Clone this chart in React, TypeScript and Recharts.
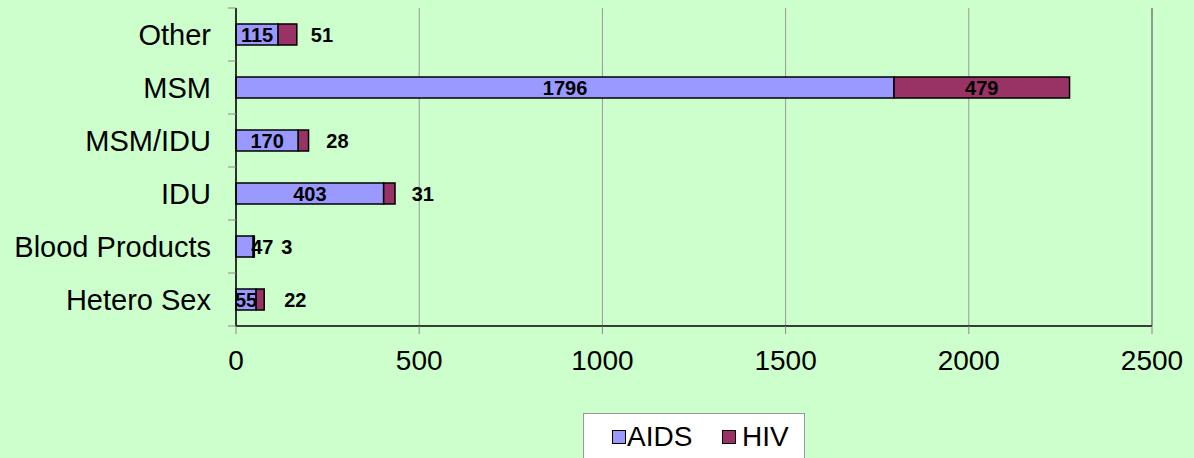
import React from 'react';
import { BarChart, Bar, XAxis, YAxis, CartesianGrid, Legend, LabelList, ReferenceLine } from 'recharts';

const categories = ['Other', 'MSM', 'MSM/IDU', 'IDU', 'Blood Products', 'Hetero Sex'];
const aidsValues = [115, 1796, 170, 403, 47, 55];
const hivValues = [51, 479, 28, 31, 3, 22];
const xTicks = [0, 500, 1000, 1500, 2000, 2500];
const seriesNames = ['AIDS', 'HIV'];

const data = categories.map((c, i) => ({ name: c, aids: aidsValues[i], hiv: hivValues[i] }));

const W = 1194;
const H = 458;
const PLOT_TOP = 8;
const PLOT_BOTTOM = 326;
const HALF_BAND = (PLOT_BOTTOM - PLOT_TOP) / categories.length / 2;
const FONT = '"Liberation Sans", Arial, sans-serif';
const AIDS_COLOR = '#9999FF';
const HIV_COLOR = '#993366';

const YTick = (props: any) => {
  const { x, y, payload, index } = props;
  return (
    <g>
      <line x1={x - 8} x2={x} y1={y - HALF_BAND} y2={y - HALF_BAND} stroke="#888" strokeWidth={1} />
      {index === categories.length - 1 && (
        <line x1={x - 8} x2={x} y1={y + HALF_BAND} y2={y + HALF_BAND} stroke="#888" strokeWidth={1} />
      )}
      <text x={x - 25} y={y} dy="0.36em" textAnchor="end" fontSize={29} fontFamily={FONT} fill="#000">
        {payload.value}
      </text>
    </g>
  );
};

const aidsLabel = (props: any) => {
  const { x, y, width, height, value } = props;
  const cy = y + height / 2;
  const small = width < 19;
  return (
    <text
      x={small ? x + width - 2 : x + width / 2}
      y={cy}
      dy="0.36em"
      textAnchor={small ? 'start' : 'middle'}
      fontSize={20}
      fontWeight="bold"
      fontFamily={FONT}
      fill="#000"
    >
      {value}
    </text>
  );
};

const hivLabel = (props: any) => {
  const { x, y, width, height, value } = props;
  const cy = y + height / 2;
  const small = width < 40;
  return (
    <text
      x={small ? Math.max(x + width + 14, x + 28) : x + width / 2}
      y={cy}
      dy="0.36em"
      textAnchor={small ? 'start' : 'middle'}
      fontSize={20}
      fontWeight="bold"
      fontFamily={FONT}
      fill="#000"
    >
      {value}
    </text>
  );
};

const LegendBox = () => (
  <svg width={222} height={50} style={{ display: 'block' }}>
    <rect x={0.5} y={0.5} width={221} height={60} fill="#fff" stroke="#999" strokeWidth={1} />
    <rect x={29.5} y={17.5} width={13} height={13} fill={AIDS_COLOR} stroke="#000" strokeWidth={1} />
    <text x={44} y={33} fontSize={28} fontFamily={FONT} fill="#000">{seriesNames[0]}</text>
    <rect x={139.5} y={17.5} width={13} height={13} fill={HIV_COLOR} stroke="#000" strokeWidth={1} />
    <text x={159} y={33} fontSize={28} fontFamily={FONT} fill="#000">{seriesNames[1]}</text>
  </svg>
);

export default function App() {
  return (
    <div style={{ position: 'absolute', left: 0, top: 0, width: W, height: H, background: '#CCFFCC', overflow: 'hidden' }}>
      <BarChart
        width={W}
        height={H}
        data={data}
        layout="vertical"
        margin={{ top: PLOT_TOP, right: 42, left: 0, bottom: 92 }}
        barSize={21}
      >
        <CartesianGrid horizontal={false} stroke="#999" strokeWidth={1} />
        <XAxis
          type="number"
          domain={[0, 2500]}
          ticks={xTicks}
          height={40}
          axisLine={{ stroke: '#000', strokeWidth: 1.5 }}
          tickLine={{ stroke: '#888' }}
          tickSize={8}
          tickMargin={16}
          tick={{ fill: '#000', fontSize: 28, fontFamily: FONT }}
          interval={0}
        />
        <XAxis
          xAxisId="top"
          orientation="top"
          type="number"
          domain={[0, 2500]}
          height={0}
          tick={false}
          tickLine={false}
          axisLine={{ stroke: '#888', strokeWidth: 1.5 }}
        />
        <YAxis
          type="category"
          dataKey="name"
          width={236}
          axisLine={{ stroke: '#000', strokeWidth: 1.5 }}
          tickLine={false}
          tickSize={0}
          tickMargin={0}
          tick={<YTick />}
          interval={0}
        />
        <ReferenceLine x={2500} stroke="#888" strokeWidth={1.5} />
        <Legend
          layout="horizontal"
          verticalAlign="middle"
          align="center"
          content={() => <LegendBox />}
          wrapperStyle={{ position: 'absolute', left: 583, top: 413, width: 222, height: 50 }}
        />
        <Bar dataKey="aids" name="AIDS" stackId="a" fill={AIDS_COLOR} stroke="#000" strokeWidth={1.5} isAnimationActive={false}>
          <LabelList dataKey="aids" content={aidsLabel} />
        </Bar>
        <Bar dataKey="hiv" name="HIV" stackId="a" fill={HIV_COLOR} stroke="#000" strokeWidth={1.5} isAnimationActive={false}>
          <LabelList dataKey="hiv" content={hivLabel} />
        </Bar>
      </BarChart>
    </div>
  );
}
